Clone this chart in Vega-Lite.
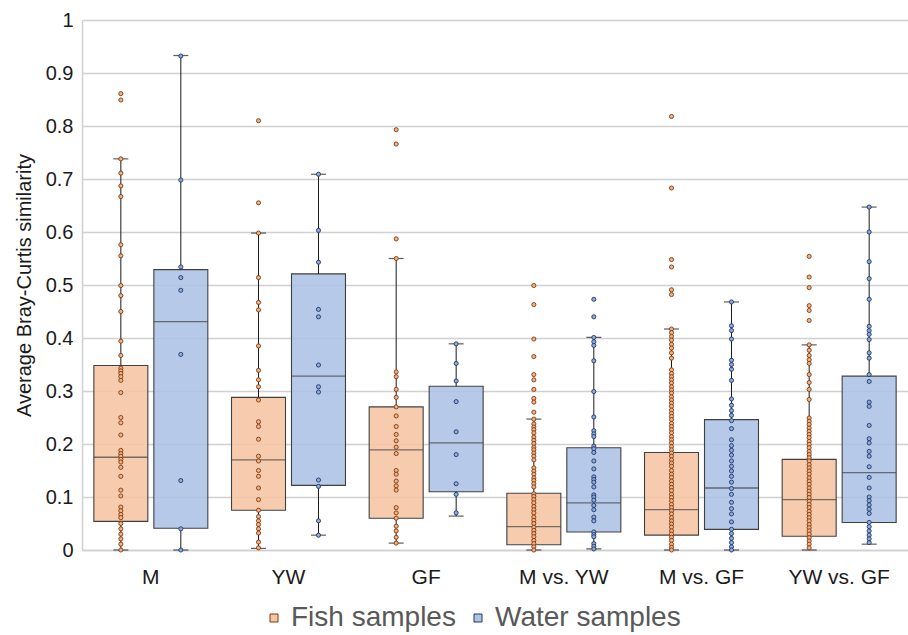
{
  "$schema": "https://vega.github.io/schema/vega-lite/v6.json",
  "width": 826,
  "height": 530,
  "autosize": {"type": "none"},
  "padding": {"left": 82, "top": 20, "right": 0, "bottom": 85},
  "background": "white",
  "config": {
    "view": {"stroke": null},
    "font": "Liberation Sans",
    "axisY": {"tickCount": 10, "grid": true, "gridColor": "#D0D0D0", "gridWidth": 1.5, "ticks": false, "domain": true, "domainColor": "#D0D0D0", "domainWidth": 1.5, "labelFontSize": 20, "labelColor": "#1a1a1a", "labelPadding": 9, "titleFontSize": 20, "titleFontWeight": "normal", "titleColor": "#1a1a1a", "titlePadding": 11}
  },
  "datasets": {
    "box": [
      {"c": "M", "g": "Fish samples", "min": 0, "q1": 0.054, "med": 0.175, "q3": 0.348, "max": 0.738},
      {"c": "M", "g": "Water samples", "min": 0, "q1": 0.041, "med": 0.431, "q3": 0.529, "max": 0.933},
      {"c": "YW", "g": "Fish samples", "min": 0.003, "q1": 0.075, "med": 0.17, "q3": 0.288, "max": 0.598},
      {"c": "YW", "g": "Water samples", "min": 0.028, "q1": 0.122, "med": 0.328, "q3": 0.521, "max": 0.709},
      {"c": "GF", "g": "Fish samples", "min": 0.013, "q1": 0.06, "med": 0.189, "q3": 0.27, "max": 0.55},
      {"c": "GF", "g": "Water samples", "min": 0.064, "q1": 0.11, "med": 0.202, "q3": 0.309, "max": 0.389},
      {"c": "M vs. YW", "g": "Fish samples", "min": 0, "q1": 0.01, "med": 0.044, "q3": 0.107, "max": 0.247},
      {"c": "M vs. YW", "g": "Water samples", "min": 0.002, "q1": 0.034, "med": 0.089, "q3": 0.193, "max": 0.401},
      {"c": "M vs. GF", "g": "Fish samples", "min": 0, "q1": 0.028, "med": 0.076, "q3": 0.184, "max": 0.417},
      {"c": "M vs. GF", "g": "Water samples", "min": 0, "q1": 0.039, "med": 0.117, "q3": 0.246, "max": 0.468},
      {"c": "YW vs. GF", "g": "Fish samples", "min": 0, "q1": 0.026, "med": 0.095, "q3": 0.171, "max": 0.387},
      {"c": "YW vs. GF", "g": "Water samples", "min": 0.011, "q1": 0.052, "med": 0.146, "q3": 0.328, "max": 0.647}
    ],
    "pts": [
      {"c":"M","g":"Fish samples","v":0.861},{"c":"M","g":"Fish samples","v":0.849},{"c":"M","g":"Fish samples","v":0.738},{"c":"M","g":"Fish samples","v":0.711},{"c":"M","g":"Fish samples","v":0.687},{"c":"M","g":"Fish samples","v":0.667},{"c":"M","g":"Fish samples","v":0.576},{"c":"M","g":"Fish samples","v":0.555},{"c":"M","g":"Fish samples","v":0.499},{"c":"M","g":"Fish samples","v":0.48},{"c":"M","g":"Fish samples","v":0.45},{"c":"M","g":"Fish samples","v":0.394},{"c":"M","g":"Fish samples","v":0.367},{"c":"M","g":"Fish samples","v":0.343},{"c":"M","g":"Fish samples","v":0.338},{"c":"M","g":"Fish samples","v":0.333},{"c":"M","g":"Fish samples","v":0.327},{"c":"M","g":"Fish samples","v":0.32},{"c":"M","g":"Fish samples","v":0.297},{"c":"M","g":"Fish samples","v":0.25},{"c":"M","g":"Fish samples","v":0.24},{"c":"M","g":"Fish samples","v":0.217},{"c":"M","g":"Fish samples","v":0.188},{"c":"M","g":"Fish samples","v":0.182},{"c":"M","g":"Fish samples","v":0.177},{"c":"M","g":"Fish samples","v":0.171},{"c":"M","g":"Fish samples","v":0.166},{"c":"M","g":"Fish samples","v":0.156},{"c":"M","g":"Fish samples","v":0.139},{"c":"M","g":"Fish samples","v":0.113},{"c":"M","g":"Fish samples","v":0.102},{"c":"M","g":"Fish samples","v":0.081},{"c":"M","g":"Fish samples","v":0.074},{"c":"M","g":"Fish samples","v":0.067},{"c":"M","g":"Fish samples","v":0.061},{"c":"M","g":"Fish samples","v":0.05},{"c":"M","g":"Fish samples","v":0.04},{"c":"M","g":"Fish samples","v":0.03},{"c":"M","g":"Fish samples","v":0.021},{"c":"M","g":"Fish samples","v":0.011},{"c":"M","g":"Fish samples","v":0},
      {"c":"M","g":"Water samples","v":0.932},{"c":"M","g":"Water samples","v":0.698},{"c":"M","g":"Water samples","v":0.534},{"c":"M","g":"Water samples","v":0.514},{"c":"M","g":"Water samples","v":0.49},{"c":"M","g":"Water samples","v":0.369},{"c":"M","g":"Water samples","v":0.131},{"c":"M","g":"Water samples","v":0.04},{"c":"M","g":"Water samples","v":0},
      {"c":"YW","g":"Fish samples","v":0.81},{"c":"YW","g":"Fish samples","v":0.655},{"c":"YW","g":"Fish samples","v":0.598},{"c":"YW","g":"Fish samples","v":0.514},{"c":"YW","g":"Fish samples","v":0.467},{"c":"YW","g":"Fish samples","v":0.453},{"c":"YW","g":"Fish samples","v":0.385},{"c":"YW","g":"Fish samples","v":0.339},{"c":"YW","g":"Fish samples","v":0.321},{"c":"YW","g":"Fish samples","v":0.308},{"c":"YW","g":"Fish samples","v":0.283},{"c":"YW","g":"Fish samples","v":0.242},{"c":"YW","g":"Fish samples","v":0.233},{"c":"YW","g":"Fish samples","v":0.209},{"c":"YW","g":"Fish samples","v":0.177},{"c":"YW","g":"Fish samples","v":0.168},{"c":"YW","g":"Fish samples","v":0.15},{"c":"YW","g":"Fish samples","v":0.139},{"c":"YW","g":"Fish samples","v":0.117},{"c":"YW","g":"Fish samples","v":0.095},{"c":"YW","g":"Fish samples","v":0.075},{"c":"YW","g":"Fish samples","v":0.063},{"c":"YW","g":"Fish samples","v":0.055},{"c":"YW","g":"Fish samples","v":0.048},{"c":"YW","g":"Fish samples","v":0.04},{"c":"YW","g":"Fish samples","v":0.032},{"c":"YW","g":"Fish samples","v":0.015},{"c":"YW","g":"Fish samples","v":0.004},
      {"c":"YW","g":"Water samples","v":0.709},{"c":"YW","g":"Water samples","v":0.603},{"c":"YW","g":"Water samples","v":0.543},{"c":"YW","g":"Water samples","v":0.454},{"c":"YW","g":"Water samples","v":0.44},{"c":"YW","g":"Water samples","v":0.349},{"c":"YW","g":"Water samples","v":0.308},{"c":"YW","g":"Water samples","v":0.298},{"c":"YW","g":"Water samples","v":0.132},{"c":"YW","g":"Water samples","v":0.12},{"c":"YW","g":"Water samples","v":0.055},{"c":"YW","g":"Water samples","v":0.028},
      {"c":"GF","g":"Fish samples","v":0.793},{"c":"GF","g":"Fish samples","v":0.766},{"c":"GF","g":"Fish samples","v":0.587},{"c":"GF","g":"Fish samples","v":0.55},{"c":"GF","g":"Fish samples","v":0.336},{"c":"GF","g":"Fish samples","v":0.327},{"c":"GF","g":"Fish samples","v":0.303},{"c":"GF","g":"Fish samples","v":0.288},{"c":"GF","g":"Fish samples","v":0.27},{"c":"GF","g":"Fish samples","v":0.253},{"c":"GF","g":"Fish samples","v":0.233},{"c":"GF","g":"Fish samples","v":0.218},{"c":"GF","g":"Fish samples","v":0.206},{"c":"GF","g":"Fish samples","v":0.194},{"c":"GF","g":"Fish samples","v":0.182},{"c":"GF","g":"Fish samples","v":0.15},{"c":"GF","g":"Fish samples","v":0.143},{"c":"GF","g":"Fish samples","v":0.13},{"c":"GF","g":"Fish samples","v":0.121},{"c":"GF","g":"Fish samples","v":0.113},{"c":"GF","g":"Fish samples","v":0.08},{"c":"GF","g":"Fish samples","v":0.07},{"c":"GF","g":"Fish samples","v":0.06},{"c":"GF","g":"Fish samples","v":0.045},{"c":"GF","g":"Fish samples","v":0.036},{"c":"GF","g":"Fish samples","v":0.024},{"c":"GF","g":"Fish samples","v":0.013},
      {"c":"GF","g":"Water samples","v":0.389},{"c":"GF","g":"Water samples","v":0.352},{"c":"GF","g":"Water samples","v":0.319},{"c":"GF","g":"Water samples","v":0.28},{"c":"GF","g":"Water samples","v":0.223},{"c":"GF","g":"Water samples","v":0.18},{"c":"GF","g":"Water samples","v":0.125},{"c":"GF","g":"Water samples","v":0.105},{"c":"GF","g":"Water samples","v":0.07},
      {"c":"M vs. YW","g":"Fish samples","v":0.499},{"c":"M vs. YW","g":"Fish samples","v":0.463},{"c":"M vs. YW","g":"Fish samples","v":0.398},{"c":"M vs. YW","g":"Fish samples","v":0.365},{"c":"M vs. YW","g":"Fish samples","v":0.331},{"c":"M vs. YW","g":"Fish samples","v":0.321},{"c":"M vs. YW","g":"Fish samples","v":0.303},{"c":"M vs. YW","g":"Fish samples","v":0.286},{"c":"M vs. YW","g":"Fish samples","v":0.279},{"c":"M vs. YW","g":"Fish samples","v":0.26},{"c":"M vs. YW","g":"Fish samples","v":0.247},{"c":"M vs. YW","g":"Fish samples","v":0.238},{"c":"M vs. YW","g":"Fish samples","v":0.232},{"c":"M vs. YW","g":"Fish samples","v":0.227},{"c":"M vs. YW","g":"Fish samples","v":0.221},{"c":"M vs. YW","g":"Fish samples","v":0.213},{"c":"M vs. YW","g":"Fish samples","v":0.207},{"c":"M vs. YW","g":"Fish samples","v":0.201},{"c":"M vs. YW","g":"Fish samples","v":0.194},{"c":"M vs. YW","g":"Fish samples","v":0.189},{"c":"M vs. YW","g":"Fish samples","v":0.183},{"c":"M vs. YW","g":"Fish samples","v":0.177},{"c":"M vs. YW","g":"Fish samples","v":0.17},{"c":"M vs. YW","g":"Fish samples","v":0.155},{"c":"M vs. YW","g":"Fish samples","v":0.149},{"c":"M vs. YW","g":"Fish samples","v":0.143},{"c":"M vs. YW","g":"Fish samples","v":0.136},{"c":"M vs. YW","g":"Fish samples","v":0.131},{"c":"M vs. YW","g":"Fish samples","v":0.125},{"c":"M vs. YW","g":"Fish samples","v":0.119},{"c":"M vs. YW","g":"Fish samples","v":0.106},{"c":"M vs. YW","g":"Fish samples","v":0.101},{"c":"M vs. YW","g":"Fish samples","v":0.095},{"c":"M vs. YW","g":"Fish samples","v":0.089},{"c":"M vs. YW","g":"Fish samples","v":0.082},{"c":"M vs. YW","g":"Fish samples","v":0.076},{"c":"M vs. YW","g":"Fish samples","v":0.07},{"c":"M vs. YW","g":"Fish samples","v":0.062},{"c":"M vs. YW","g":"Fish samples","v":0.056},{"c":"M vs. YW","g":"Fish samples","v":0.05},{"c":"M vs. YW","g":"Fish samples","v":0.043},{"c":"M vs. YW","g":"Fish samples","v":0.037},{"c":"M vs. YW","g":"Fish samples","v":0.031},{"c":"M vs. YW","g":"Fish samples","v":0.025},{"c":"M vs. YW","g":"Fish samples","v":0.018},{"c":"M vs. YW","g":"Fish samples","v":0.012},{"c":"M vs. YW","g":"Fish samples","v":0.006},{"c":"M vs. YW","g":"Fish samples","v":0},
      {"c":"M vs. YW","g":"Water samples","v":0.473},{"c":"M vs. YW","g":"Water samples","v":0.44},{"c":"M vs. YW","g":"Water samples","v":0.401},{"c":"M vs. YW","g":"Water samples","v":0.393},{"c":"M vs. YW","g":"Water samples","v":0.386},{"c":"M vs. YW","g":"Water samples","v":0.357},{"c":"M vs. YW","g":"Water samples","v":0.299},{"c":"M vs. YW","g":"Water samples","v":0.251},{"c":"M vs. YW","g":"Water samples","v":0.225},{"c":"M vs. YW","g":"Water samples","v":0.219},{"c":"M vs. YW","g":"Water samples","v":0.214},{"c":"M vs. YW","g":"Water samples","v":0.196},{"c":"M vs. YW","g":"Water samples","v":0.191},{"c":"M vs. YW","g":"Water samples","v":0.184},{"c":"M vs. YW","g":"Water samples","v":0.168},{"c":"M vs. YW","g":"Water samples","v":0.153},{"c":"M vs. YW","g":"Water samples","v":0.138},{"c":"M vs. YW","g":"Water samples","v":0.133},{"c":"M vs. YW","g":"Water samples","v":0.128},{"c":"M vs. YW","g":"Water samples","v":0.119},{"c":"M vs. YW","g":"Water samples","v":0.104},{"c":"M vs. YW","g":"Water samples","v":0.1},{"c":"M vs. YW","g":"Water samples","v":0.094},{"c":"M vs. YW","g":"Water samples","v":0.084},{"c":"M vs. YW","g":"Water samples","v":0.076},{"c":"M vs. YW","g":"Water samples","v":0.062},{"c":"M vs. YW","g":"Water samples","v":0.055},{"c":"M vs. YW","g":"Water samples","v":0.034},{"c":"M vs. YW","g":"Water samples","v":0.029},{"c":"M vs. YW","g":"Water samples","v":0.025},{"c":"M vs. YW","g":"Water samples","v":0.012},{"c":"M vs. YW","g":"Water samples","v":0.007},{"c":"M vs. YW","g":"Water samples","v":0.002},
      {"c":"M vs. GF","g":"Fish samples","v":0.818},{"c":"M vs. GF","g":"Fish samples","v":0.683},{"c":"M vs. GF","g":"Fish samples","v":0.548},{"c":"M vs. GF","g":"Fish samples","v":0.534},{"c":"M vs. GF","g":"Fish samples","v":0.491},{"c":"M vs. GF","g":"Fish samples","v":0.482},{"c":"M vs. GF","g":"Fish samples","v":0.417},{"c":"M vs. GF","g":"Fish samples","v":0.41},{"c":"M vs. GF","g":"Fish samples","v":0.403},{"c":"M vs. GF","g":"Fish samples","v":0.396},{"c":"M vs. GF","g":"Fish samples","v":0.388},{"c":"M vs. GF","g":"Fish samples","v":0.381},{"c":"M vs. GF","g":"Fish samples","v":0.372},{"c":"M vs. GF","g":"Fish samples","v":0.362},{"c":"M vs. GF","g":"Fish samples","v":0.34},{"c":"M vs. GF","g":"Fish samples","v":0.333},{"c":"M vs. GF","g":"Fish samples","v":0.327},{"c":"M vs. GF","g":"Fish samples","v":0.321},{"c":"M vs. GF","g":"Fish samples","v":0.315},{"c":"M vs. GF","g":"Fish samples","v":0.308},{"c":"M vs. GF","g":"Fish samples","v":0.302},{"c":"M vs. GF","g":"Fish samples","v":0.296},{"c":"M vs. GF","g":"Fish samples","v":0.289},{"c":"M vs. GF","g":"Fish samples","v":0.283},{"c":"M vs. GF","g":"Fish samples","v":0.277},{"c":"M vs. GF","g":"Fish samples","v":0.271},{"c":"M vs. GF","g":"Fish samples","v":0.264},{"c":"M vs. GF","g":"Fish samples","v":0.258},{"c":"M vs. GF","g":"Fish samples","v":0.252},{"c":"M vs. GF","g":"Fish samples","v":0.246},{"c":"M vs. GF","g":"Fish samples","v":0.239},{"c":"M vs. GF","g":"Fish samples","v":0.233},{"c":"M vs. GF","g":"Fish samples","v":0.227},{"c":"M vs. GF","g":"Fish samples","v":0.221},{"c":"M vs. GF","g":"Fish samples","v":0.214},{"c":"M vs. GF","g":"Fish samples","v":0.208},{"c":"M vs. GF","g":"Fish samples","v":0.202},{"c":"M vs. GF","g":"Fish samples","v":0.195},{"c":"M vs. GF","g":"Fish samples","v":0.189},{"c":"M vs. GF","g":"Fish samples","v":0.183},{"c":"M vs. GF","g":"Fish samples","v":0.177},{"c":"M vs. GF","g":"Fish samples","v":0.17},{"c":"M vs. GF","g":"Fish samples","v":0.164},{"c":"M vs. GF","g":"Fish samples","v":0.158},{"c":"M vs. GF","g":"Fish samples","v":0.15},{"c":"M vs. GF","g":"Fish samples","v":0.143},{"c":"M vs. GF","g":"Fish samples","v":0.137},{"c":"M vs. GF","g":"Fish samples","v":0.13},{"c":"M vs. GF","g":"Fish samples","v":0.124},{"c":"M vs. GF","g":"Fish samples","v":0.118},{"c":"M vs. GF","g":"Fish samples","v":0.112},{"c":"M vs. GF","g":"Fish samples","v":0.105},{"c":"M vs. GF","g":"Fish samples","v":0.099},{"c":"M vs. GF","g":"Fish samples","v":0.093},{"c":"M vs. GF","g":"Fish samples","v":0.086},{"c":"M vs. GF","g":"Fish samples","v":0.08},{"c":"M vs. GF","g":"Fish samples","v":0.074},{"c":"M vs. GF","g":"Fish samples","v":0.068},{"c":"M vs. GF","g":"Fish samples","v":0.061},{"c":"M vs. GF","g":"Fish samples","v":0.055},{"c":"M vs. GF","g":"Fish samples","v":0.049},{"c":"M vs. GF","g":"Fish samples","v":0.043},{"c":"M vs. GF","g":"Fish samples","v":0.036},{"c":"M vs. GF","g":"Fish samples","v":0.03},{"c":"M vs. GF","g":"Fish samples","v":0.024},{"c":"M vs. GF","g":"Fish samples","v":0.018},{"c":"M vs. GF","g":"Fish samples","v":0.011},{"c":"M vs. GF","g":"Fish samples","v":0.005},{"c":"M vs. GF","g":"Fish samples","v":0},
      {"c":"M vs. GF","g":"Water samples","v":0.468},{"c":"M vs. GF","g":"Water samples","v":0.423},{"c":"M vs. GF","g":"Water samples","v":0.414},{"c":"M vs. GF","g":"Water samples","v":0.398},{"c":"M vs. GF","g":"Water samples","v":0.358},{"c":"M vs. GF","g":"Water samples","v":0.35},{"c":"M vs. GF","g":"Water samples","v":0.341},{"c":"M vs. GF","g":"Water samples","v":0.32},{"c":"M vs. GF","g":"Water samples","v":0.285},{"c":"M vs. GF","g":"Water samples","v":0.273},{"c":"M vs. GF","g":"Water samples","v":0.263},{"c":"M vs. GF","g":"Water samples","v":0.254},{"c":"M vs. GF","g":"Water samples","v":0.244},{"c":"M vs. GF","g":"Water samples","v":0.229},{"c":"M vs. GF","g":"Water samples","v":0.208},{"c":"M vs. GF","g":"Water samples","v":0.197},{"c":"M vs. GF","g":"Water samples","v":0.188},{"c":"M vs. GF","g":"Water samples","v":0.179},{"c":"M vs. GF","g":"Water samples","v":0.168},{"c":"M vs. GF","g":"Water samples","v":0.158},{"c":"M vs. GF","g":"Water samples","v":0.149},{"c":"M vs. GF","g":"Water samples","v":0.139},{"c":"M vs. GF","g":"Water samples","v":0.128},{"c":"M vs. GF","g":"Water samples","v":0.116},{"c":"M vs. GF","g":"Water samples","v":0.105},{"c":"M vs. GF","g":"Water samples","v":0.09},{"c":"M vs. GF","g":"Water samples","v":0.078},{"c":"M vs. GF","g":"Water samples","v":0.068},{"c":"M vs. GF","g":"Water samples","v":0.053},{"c":"M vs. GF","g":"Water samples","v":0.039},{"c":"M vs. GF","g":"Water samples","v":0.031},{"c":"M vs. GF","g":"Water samples","v":0.022},{"c":"M vs. GF","g":"Water samples","v":0.014},{"c":"M vs. GF","g":"Water samples","v":0.006},{"c":"M vs. GF","g":"Water samples","v":0},
      {"c":"YW vs. GF","g":"Fish samples","v":0.554},{"c":"YW vs. GF","g":"Fish samples","v":0.515},{"c":"YW vs. GF","g":"Fish samples","v":0.495},{"c":"YW vs. GF","g":"Fish samples","v":0.461},{"c":"YW vs. GF","g":"Fish samples","v":0.452},{"c":"YW vs. GF","g":"Fish samples","v":0.433},{"c":"YW vs. GF","g":"Fish samples","v":0.387},{"c":"YW vs. GF","g":"Fish samples","v":0.377},{"c":"YW vs. GF","g":"Fish samples","v":0.367},{"c":"YW vs. GF","g":"Fish samples","v":0.359},{"c":"YW vs. GF","g":"Fish samples","v":0.352},{"c":"YW vs. GF","g":"Fish samples","v":0.331},{"c":"YW vs. GF","g":"Fish samples","v":0.316},{"c":"YW vs. GF","g":"Fish samples","v":0.303},{"c":"YW vs. GF","g":"Fish samples","v":0.284},{"c":"YW vs. GF","g":"Fish samples","v":0.249},{"c":"YW vs. GF","g":"Fish samples","v":0.243},{"c":"YW vs. GF","g":"Fish samples","v":0.237},{"c":"YW vs. GF","g":"Fish samples","v":0.23},{"c":"YW vs. GF","g":"Fish samples","v":0.224},{"c":"YW vs. GF","g":"Fish samples","v":0.218},{"c":"YW vs. GF","g":"Fish samples","v":0.212},{"c":"YW vs. GF","g":"Fish samples","v":0.205},{"c":"YW vs. GF","g":"Fish samples","v":0.199},{"c":"YW vs. GF","g":"Fish samples","v":0.193},{"c":"YW vs. GF","g":"Fish samples","v":0.186},{"c":"YW vs. GF","g":"Fish samples","v":0.18},{"c":"YW vs. GF","g":"Fish samples","v":0.174},{"c":"YW vs. GF","g":"Fish samples","v":0.168},{"c":"YW vs. GF","g":"Fish samples","v":0.161},{"c":"YW vs. GF","g":"Fish samples","v":0.155},{"c":"YW vs. GF","g":"Fish samples","v":0.149},{"c":"YW vs. GF","g":"Fish samples","v":0.143},{"c":"YW vs. GF","g":"Fish samples","v":0.136},{"c":"YW vs. GF","g":"Fish samples","v":0.13},{"c":"YW vs. GF","g":"Fish samples","v":0.124},{"c":"YW vs. GF","g":"Fish samples","v":0.117},{"c":"YW vs. GF","g":"Fish samples","v":0.111},{"c":"YW vs. GF","g":"Fish samples","v":0.105},{"c":"YW vs. GF","g":"Fish samples","v":0.099},{"c":"YW vs. GF","g":"Fish samples","v":0.092},{"c":"YW vs. GF","g":"Fish samples","v":0.086},{"c":"YW vs. GF","g":"Fish samples","v":0.08},{"c":"YW vs. GF","g":"Fish samples","v":0.073},{"c":"YW vs. GF","g":"Fish samples","v":0.067},{"c":"YW vs. GF","g":"Fish samples","v":0.061},{"c":"YW vs. GF","g":"Fish samples","v":0.055},{"c":"YW vs. GF","g":"Fish samples","v":0.048},{"c":"YW vs. GF","g":"Fish samples","v":0.042},{"c":"YW vs. GF","g":"Fish samples","v":0.036},{"c":"YW vs. GF","g":"Fish samples","v":0.03},{"c":"YW vs. GF","g":"Fish samples","v":0.023},{"c":"YW vs. GF","g":"Fish samples","v":0.017},{"c":"YW vs. GF","g":"Fish samples","v":0.011},{"c":"YW vs. GF","g":"Fish samples","v":0.004},
      {"c":"YW vs. GF","g":"Water samples","v":0.647},{"c":"YW vs. GF","g":"Water samples","v":0.6},{"c":"YW vs. GF","g":"Water samples","v":0.544},{"c":"YW vs. GF","g":"Water samples","v":0.512},{"c":"YW vs. GF","g":"Water samples","v":0.473},{"c":"YW vs. GF","g":"Water samples","v":0.422},{"c":"YW vs. GF","g":"Water samples","v":0.414},{"c":"YW vs. GF","g":"Water samples","v":0.407},{"c":"YW vs. GF","g":"Water samples","v":0.397},{"c":"YW vs. GF","g":"Water samples","v":0.372},{"c":"YW vs. GF","g":"Water samples","v":0.362},{"c":"YW vs. GF","g":"Water samples","v":0.331},{"c":"YW vs. GF","g":"Water samples","v":0.318},{"c":"YW vs. GF","g":"Water samples","v":0.279},{"c":"YW vs. GF","g":"Water samples","v":0.271},{"c":"YW vs. GF","g":"Water samples","v":0.235},{"c":"YW vs. GF","g":"Water samples","v":0.21},{"c":"YW vs. GF","g":"Water samples","v":0.202},{"c":"YW vs. GF","g":"Water samples","v":0.186},{"c":"YW vs. GF","g":"Water samples","v":0.177},{"c":"YW vs. GF","g":"Water samples","v":0.157},{"c":"YW vs. GF","g":"Water samples","v":0.137},{"c":"YW vs. GF","g":"Water samples","v":0.117},{"c":"YW vs. GF","g":"Water samples","v":0.1},{"c":"YW vs. GF","g":"Water samples","v":0.093},{"c":"YW vs. GF","g":"Water samples","v":0.085},{"c":"YW vs. GF","g":"Water samples","v":0.077},{"c":"YW vs. GF","g":"Water samples","v":0.069},{"c":"YW vs. GF","g":"Water samples","v":0.052},{"c":"YW vs. GF","g":"Water samples","v":0.044},{"c":"YW vs. GF","g":"Water samples","v":0.036},{"c":"YW vs. GF","g":"Water samples","v":0.028},{"c":"YW vs. GF","g":"Water samples","v":0.021},{"c":"YW vs. GF","g":"Water samples","v":0.014}
    ]
  },
  "encoding": {
    "x": {
      "field": "c", "type": "nominal",
      "scale": {"domain": ["M", "YW", "GF", "M vs. YW", "M vs. GF", "YW vs. GF"], "paddingInner": 0, "paddingOuter": 0},
      "axis": {"title": null, "labelAngle": 0, "labelFontSize": 21, "labelColor": "#1a1a1a", "labelPadding": 16, "ticks": false, "grid": false, "domain": true, "domainColor": "#D0D0D0", "domainWidth": 1.5}
    },
    "xOffset": {
      "field": "g", "type": "nominal",
      "scale": {"domain": ["Fish samples", "Water samples"], "paddingInner": 0.1, "paddingOuter": 0.1975}
    }
  },
  "layer": [
    {
      "data": {"name": "box"},
      "mark": {"type": "bar", "fillOpacity": 0.88, "stroke": "#404040", "strokeWidth": 1.1},
      "encoding": {
        "y": {"field": "q1", "type": "quantitative", "scale": {"domain": [0, 1], "nice": false}, "axis": {"title": "Average Bray-Curtis similarity", "format": "~g"}},
        "y2": {"field": "q3"},
        "color": {
          "field": "g", "type": "nominal",
          "scale": {"domain": ["Fish samples", "Water samples"], "range": ["#F6C5A3", "#ADC2E5"]},
          "legend": {"orient": "none", "legendX": 178, "legendY": 584, "direction": "horizontal", "title": null, "labelFontSize": 28, "labelColor": "#595959", "labelLimit": 0, "symbolType": "square", "symbolSize": 64, "symbolStrokeColor": "#595959", "symbolStrokeWidth": 1, "symbolOpacity": 1, "columnPadding": 8, "labelOffset": 3, "padding": 0}
        }
      }
    },
    {
      "data": {"name": "box"},
      "mark": {"type": "rule", "color": "#1a1a1a", "strokeWidth": 1},
      "encoding": {
        "y": {"field": "min", "type": "quantitative", "axis": {"title": "Average Bray-Curtis similarity", "format": "~g"}},
        "y2": {"field": "q1"}
      }
    },
    {
      "data": {"name": "box"},
      "mark": {"type": "rule", "color": "#1a1a1a", "strokeWidth": 1},
      "encoding": {
        "y": {"field": "q3", "type": "quantitative", "axis": {"title": "Average Bray-Curtis similarity", "format": "~g"}},
        "y2": {"field": "max"}
      }
    },
    {
      "data": {"name": "box"},
      "mark": {"type": "tick", "color": "#1a1a1a", "size": 15, "thickness": 1.2},
      "encoding": {"y": {"field": "min", "type": "quantitative", "axis": {"title": "Average Bray-Curtis similarity", "format": "~g"}}}
    },
    {
      "data": {"name": "box"},
      "mark": {"type": "tick", "color": "#1a1a1a", "size": 15, "thickness": 1.2},
      "encoding": {"y": {"field": "max", "type": "quantitative", "axis": {"title": "Average Bray-Curtis similarity", "format": "~g"}}}
    },
    {
      "data": {"name": "box"},
      "mark": {"type": "tick", "color": "#404040", "size": 54, "thickness": 1.3},
      "encoding": {"y": {"field": "med", "type": "quantitative", "axis": {"title": "Average Bray-Curtis similarity", "format": "~g"}}}
    },
    {
      "data": {"name": "pts"},
      "mark": {"type": "circle", "size": 17, "strokeWidth": 0.9, "opacity": 1},
      "encoding": {
        "y": {"field": "v", "type": "quantitative", "axis": {"title": "Average Bray-Curtis similarity", "format": "~g"}},
        "fill": {"field": "g", "type": "nominal", "scale": {"domain": ["Fish samples", "Water samples"], "range": ["#F4B183", "#8FAADC"]}, "legend": null},
        "stroke": {"field": "g", "type": "nominal", "scale": {"domain": ["Fish samples", "Water samples"], "range": ["#7A3A12", "#1F3864"]}, "legend": null}
      }
    }
  ]
}
